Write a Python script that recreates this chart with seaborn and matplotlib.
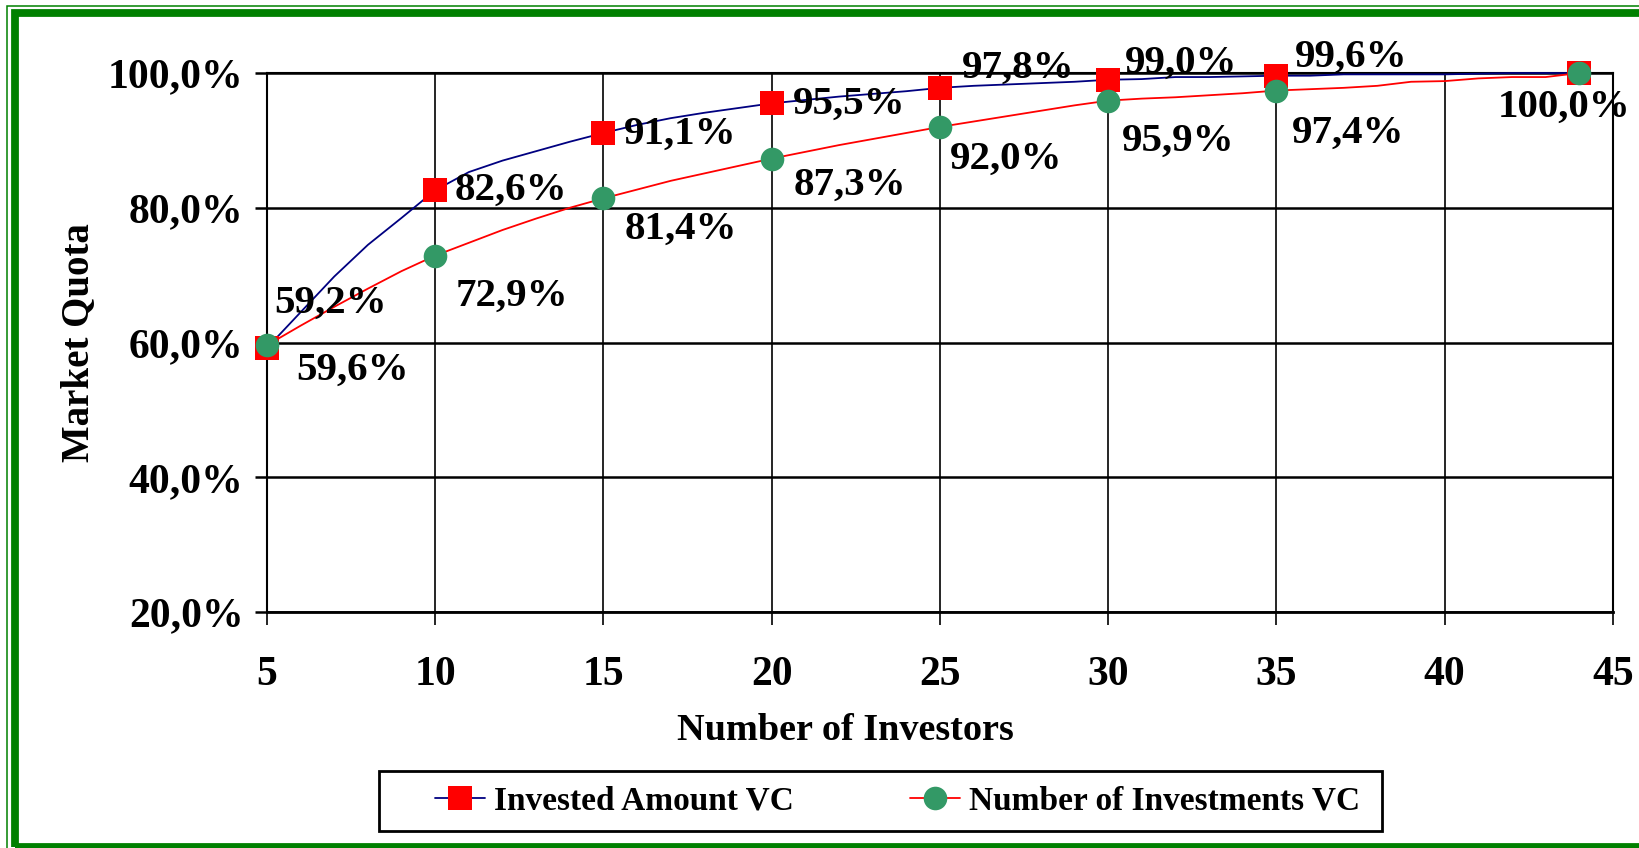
import pandas as pd
import seaborn as sns
import matplotlib.pyplot as plt
from matplotlib.patches import Rectangle

# ---- data ----
investors = list(range(5, 45))
invested_amount = [59.2, 64.5, 69.8, 74.5, 78.5, 82.6, 85.3, 87.0, 88.4, 89.8,
                   91.1, 92.3, 93.3, 94.1, 94.8, 95.5, 96.0, 96.5, 96.9, 97.3,
                   97.8, 98.1, 98.3, 98.5, 98.7, 99.0, 99.1, 99.4, 99.4, 99.5,
                   99.6, 99.6, 99.8, 99.8, 99.8, 99.8, 99.9, 100.0, 100.0, 100.0]
num_investments = [59.6, 62.5, 65.3, 68.0, 70.6, 72.9, 74.8, 76.7, 78.4, 80.0,
                   81.4, 82.7, 84.0, 85.1, 86.2, 87.3, 88.3, 89.3, 90.2, 91.1,
                   92.0, 92.8, 93.6, 94.4, 95.2, 95.9, 96.2, 96.4, 96.7, 97.0,
                   97.4, 97.6, 97.8, 98.1, 98.7, 98.8, 99.2, 99.4, 99.4, 100.0]
marked_investors = [5, 10, 15, 20, 25, 30, 35, 44]
x_ticks = [5, 10, 15, 20, 25, 30, 35, 40, 45]
y_ticks = [20, 40, 60, 80, 100]
y_tick_labels = ["20,0%", "40,0%", "60,0%", "80,0%", "100,0%"]

# label offsets in points (layout only)
amount_offsets = [(5, 32), (14, 0), (15, -1), (15, -1), (16, 14), (12, 12), (13, 13), None]
count_offsets = [(21, -18), (15, -29), (15, -22), (16, -19), (7, -23), (10, -29), (11, -31), (-59, -25)]

df = pd.DataFrame({"investors": investors,
                   "amount": invested_amount,
                   "count": num_investments})
mark_idx = [investors.index(v) for v in marked_investors]

sns.set_theme(style="white")
plt.rcParams["font.family"] = ["Liberation Serif", "DejaVu Serif"]
plt.rcParams["font.weight"] = "bold"
plt.rcParams["text.color"] = "black"
plt.rcParams["axes.labelcolor"] = "black"
plt.rcParams["xtick.color"] = "black"
plt.rcParams["ytick.color"] = "black"

fig = plt.figure(figsize=(16.39, 8.48), dpi=100)
ax = fig.add_axes([0.1629, 0.2783, 0.8212, 0.6356])

sns.lineplot(data=df, x="investors", y="amount", ax=ax, color="#000080", lw=1.3,
             marker="s", markevery=mark_idx, markersize=17.5, mfc="#FF0000", mec="#FF0000",
             mew=0, label="Invested Amount VC", zorder=3, clip_on=False)
sns.lineplot(data=df, x="investors", y="count", ax=ax, color="#FF0000", lw=1.3,
             marker="o", markevery=mark_idx, markersize=17, mfc="#339966", mec="#339966",
             mew=0, label="Number of Investments VC", zorder=4, clip_on=False)

def pct(v):
    return f"{v:.1f}%".replace(".", ",")

for i, off in zip(mark_idx, amount_offsets):
    if off is None:
        continue
    ax.annotate(pct(invested_amount[i]), (investors[i], invested_amount[i]),
                xytext=off, textcoords="offset points", ha="left", va="center",
                fontsize=29.5, fontweight="bold", zorder=5)
for i, off in zip(mark_idx, count_offsets):
    ax.annotate(pct(num_investments[i]), (investors[i], num_investments[i]),
                xytext=off, textcoords="offset points", ha="left", va="center",
                fontsize=29.5, fontweight="bold", zorder=5)

ax.set_xlim(5, 45)
ax.set_ylim(20, 100)
ax.set_xticks(x_ticks)
ax.set_yticks(y_ticks)
ax.set_yticklabels(y_tick_labels)
ax.grid(True, axis="y", color="black", lw=1.8)
ax.grid(True, axis="x", color="black", lw=1.2)
for s in ax.spines.values():
    s.set_color("black")
    s.set_linewidth(1.5)
ax.spines["bottom"].set_linewidth(2)
ax.tick_params(axis="x", direction="out", length=9, width=1.2, pad=23,
               labelsize=30, bottom=True, color="black")
ax.tick_params(axis="y", direction="out", length=9, width=1.8, pad=8,
               labelsize=30, left=True, color="black")

ax.set_xlabel("Number of Investors", fontsize=27.5, fontweight="bold")
ax.set_ylabel("Market Quota", fontsize=28, fontweight="bold")
ax.xaxis.set_label_coords(0.4294, -0.187)
ax.yaxis.set_label_coords(-0.126, 0.5)

ax.get_legend().remove()
handles, labels = ax.get_legend_handles_labels()
fig.legend(handles, labels, loc="center", bbox_to_anchor=(0.5476, 0.0554),
           ncol=2, frameon=False, handlelength=1.5,
           handletextpad=0.25, columnspacing=3.5,
           prop={"family": "Liberation Serif", "weight": "bold", "size": 24})
fig.add_artist(Rectangle((379 / 1639, 1 - 831 / 848), 1003 / 1639, 60 / 848,
                         fill=False, ec="black", lw=2, transform=fig.transFigure))

# green double frame (right and bottom run off the picture)
fig.add_artist(Rectangle((6.7 / 1639, -20 / 848), 1.1, 1 - 5.5 / 848 + 20 / 848,
                         fill=False, ec="#008000", lw=1.1, transform=fig.transFigure))
fig.add_artist(Rectangle((15 / 1639, 1 - 847 / 848), 1.1, (847 - 13) / 848,
                         fill=False, ec="#008000", lw=5.6, transform=fig.transFigure))

fig.savefig("out.png", dpi=100)
